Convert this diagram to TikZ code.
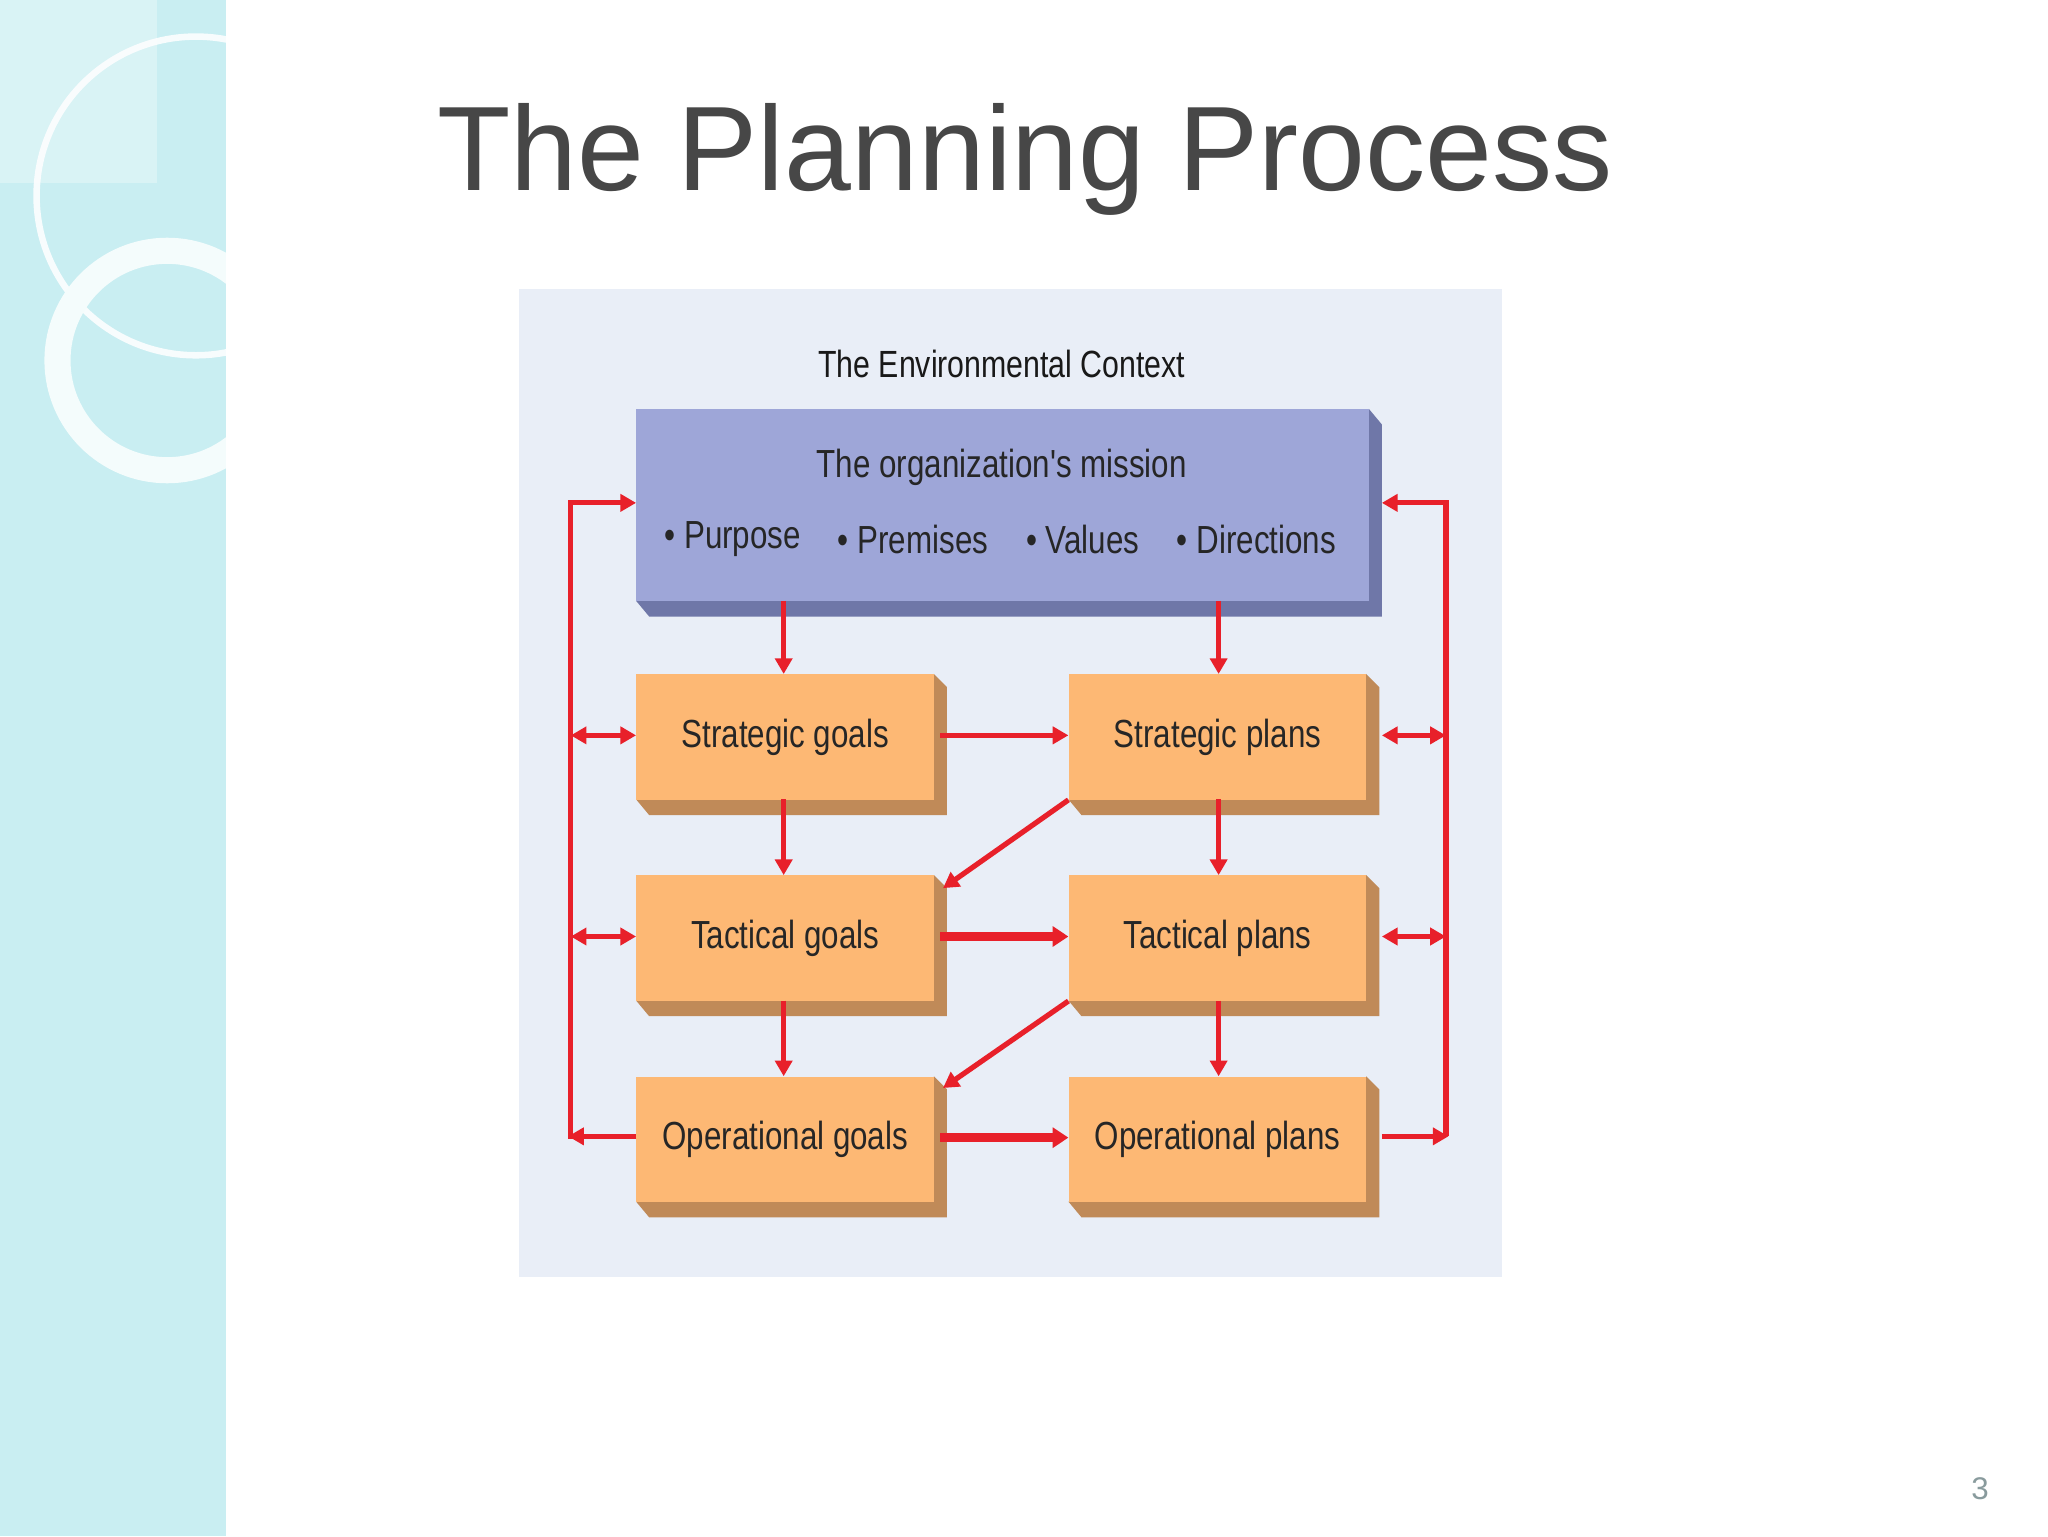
\documentclass[tikz,border=0pt]{standalone}
\usepackage{fontspec}
\setmainfont{Liberation Sans}
\newfontfamily\narrowf[FakeStretch=0.8]{Liberation Sans}
\usetikzlibrary{arrows.meta}
\definecolor{panel}{HTML}{E9EEF7}
\definecolor{mis}{HTML}{9EA6D8}
\definecolor{misd}{HTML}{6F77A8}
\definecolor{org}{HTML}{FDB874}
\definecolor{orgd}{HTML}{C08A58}
\definecolor{rd}{HTML}{E8202A}
\definecolor{strip}{HTML}{C9EEF2}
\tikzset{
 obox/.style={fill=org,minimum width=228pt,minimum height=96pt,anchor=north west,inner sep=0pt,font=\narrowf\fontsize{30}{32}\selectfont,text=black!85},
 tx/.style={font=\narrowf\fontsize{30}{32}\selectfont,text=black!85},
 ra/.style={draw=rd,line width=4pt,-{Triangle[length=12pt,width=13pt]}},
 rb/.style={draw=rd,line width=7pt,-{Triangle[length=12pt,width=15pt]}},
 rl/.style={draw=rd,line width=4pt},
 rd2/.style={draw=rd,line width=4pt,{Triangle[length=12pt,width=13pt]}-{Triangle[length=12pt,width=13pt]}}
}
\begin{document}
\begin{tikzpicture}[x=1pt,y=-1pt]
\useasboundingbox (0,0) rectangle (1568,1176);
\fill[white] (0,0) rectangle (1568,1176);
\fill[strip] (0,0) rectangle (173,1176);
\begin{scope}
\clip (0,0) rectangle (173,1176);
\draw[white!85!strip,line width=5pt] (150,150) circle (122);
\draw[white!80!strip,line width=20pt] (128,276) circle (84);
\fill[white,opacity=0.3] (0,0) rectangle (120,140);
\end{scope}
\node[font=\fontsize{92}{100}\selectfont,text=black!72] (title) at (785,122) {The Planning Process};
\fill[panel] (397,221) rectangle (1150,978);
\node[font=\narrowf\fontsize{29}{30}\selectfont,text=black!90] (env) at (767,279) {The Environmental Context};
% mission
\fill[misd] (487,460) -- (1048,460) -- (1048,313) -- (1058,325) -- (1058,472) -- (497,472) -- cycle;
\node[fill=mis,minimum width=561pt,minimum height=147pt,anchor=north west,inner sep=0pt] (mission) at (487,313) {};
\node[tx] (mt) at (767,358) {The organization's mission};
\node[tx] (b1) at (561,413) {\textbullet\ Purpose};
\node[tx] (b2) at (699,413) {\textbullet\ Premises};
\node[tx] (b3) at (829,413) {\textbullet\ Values};
\node[tx] (b4) at (962,413) {\textbullet\ Directions};
% orange boxes with shadows
\foreach \x/\y in {487/516,818/516,487/670,818/670,487/824,818/824}{
 \fill[orgd] (\x,\y+96) -- (\x+228,\y+96) -- (\x+228,\y) -- (\x+238,\y+10) -- (\x+238,\y+108) -- (\x+10,\y+108) -- cycle;
}
\node[obox] (sg) at (487,516) {Strategic goals};
\node[obox] (sp) at (818,516) {Strategic plans};
\node[obox] (tg) at (487,670) {Tactical goals};
\node[obox] (tp) at (818,670) {Tactical plans};
\node[obox] (og) at (487,824) {Operational goals};
\node[obox] (op) at (818,824) {Operational plans};
% coordinates
\coordinate (L1) at (437,385); \coordinate (L4) at (437,870);
\coordinate (R1) at (1107,385); \coordinate (R4) at (1107,870);
\coordinate (L2) at (437,563); \coordinate (L3) at (437,717);
\coordinate (R2) at (1107,563); \coordinate (R3) at (1107,717);
% vertical arrows
\draw[ra] (600,460) -- (600,516);
\draw[ra] (933,460) -- (933,516);
\draw[ra] (600,612) -- (600,670);
\draw[ra] (933,612) -- (933,670);
\draw[ra] (600,766) -- (600,824);
\draw[ra] (933,766) -- (933,824);
% horizontal
\draw[ra] (720,563) -- (sp.west |- 0,563);
\draw[rb] (720,717) -- (tp.west |- 0,717);
\draw[rb] (720,871) -- (op.west |- 0,871);
% diagonal
\draw[ra] (sp.south west) -- (722,680);
\draw[ra] (tp.south west) -- (722,833);
% loops
\draw[rl] (og.west |- L4) -- (L4) -- (L1);
\draw[ra] ([xshift=-2pt]L1) -- (mission.west |- L1);
\draw[ra] (og.west |- L4) -- ([xshift=-2pt]L4);
\draw[rd2] (L2) -- (sg.west |- L2);
\draw[rd2] (L3) -- (tg.west |- L3);
\draw[rl] (R1) -- (R4);
\draw[ra] ([xshift=2pt]R1) -- (1058,385);
\draw[ra] (1058,870) -- ([xshift=2pt]R4);
\draw[rd2] (1058,563) -- (R2);
\draw[rd2] (1058,717) -- (R3);
\node[font=\fontsize{24}{26}\selectfont,text=black!30!strip!70!gray] (pg) at (1516,1140) {3};
\end{tikzpicture}
\end{document}
